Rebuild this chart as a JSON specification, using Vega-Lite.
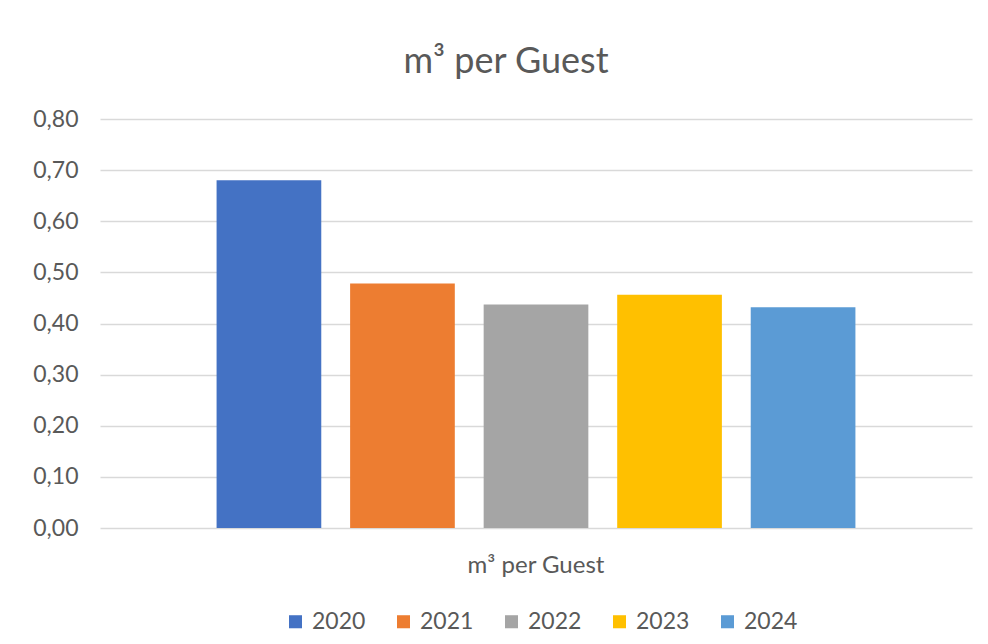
{
  "$schema": "https://vega.github.io/schema/vega-lite/v6.json",
  "width": 872,
  "height": 409,
  "autosize": "none",
  "padding": {"left": 100, "top": 119, "right": 16, "bottom": 116},
  "background": "white",
  "title": {
    "text": "m³ per Guest",
    "fontSize": 36,
    "font": "Lato",
    "fontWeight": "normal",
    "color": "#595959",
    "anchor": "middle",
    "dx": -30,
    "offset": 27
  },
  "data": {
    "values": [
      {"category": "m³ per Guest", "year": "2020", "value": 0.680},
      {"category": "m³ per Guest", "year": "2021", "value": 0.478},
      {"category": "m³ per Guest", "year": "2022", "value": 0.437},
      {"category": "m³ per Guest", "year": "2023", "value": 0.456},
      {"category": "m³ per Guest", "year": "2024", "value": 0.432}
    ]
  },
  "mark": {"type": "bar"},
  "encoding": {
    "x": {
      "field": "category",
      "type": "nominal",
      "scale": {"paddingInner": 0, "paddingOuter": 0.153},
      "axis": {
        "title": null,
        "labelAngle": 0,
        "ticks": false,
        "domain": false,
        "labelPadding": 25,
        "labelFontSize": 24,
        "labelFont": "Lato",
        "labelColor": "#595959"
      }
    },
    "xOffset": {
      "field": "year",
      "type": "nominal",
      "scale": {"paddingInner": 0.216, "paddingOuter": 0.108}
    },
    "y": {
      "field": "value",
      "type": "quantitative",
      "scale": {"domain": [0, 0.8]},
      "axis": {
        "title": null,
        "values": [0, 0.1, 0.2, 0.3, 0.4, 0.5, 0.6, 0.7, 0.8],
        "labelExpr": "replace(format(datum.value, '.2f'), '.', ',')",
        "labelOverlap": false,
        "ticks": false,
        "domain": false,
        "labelPadding": 22,
        "labelFontSize": 23,
        "labelFont": "Lato",
        "labelColor": "#595959",
        "gridColor": "#d9d9d9",
        "gridWidth": 1.5
      }
    },
    "color": {
      "field": "year",
      "type": "nominal",
      "scale": {
        "domain": ["2020", "2021", "2022", "2023", "2024"],
        "range": ["#4472C4", "#ED7D31", "#A5A5A5", "#FFC000", "#5B9BD5"]
      },
      "legend": {
        "title": null,
        "orient": "none",
        "legendX": 184,
        "legendY": 491,
        "direction": "horizontal",
        "symbolType": "square",
        "symbolSize": 170,
        "symbolStrokeWidth": 0,
        "labelFontSize": 23,
        "labelFont": "Lato",
        "labelColor": "#595959",
        "labelOffset": 5,
        "columnPadding": 26
      }
    }
  },
  "config": {
    "view": {"stroke": null},
    "axisX": {"grid": false},
    "axisY": {"grid": true}
  }
}
